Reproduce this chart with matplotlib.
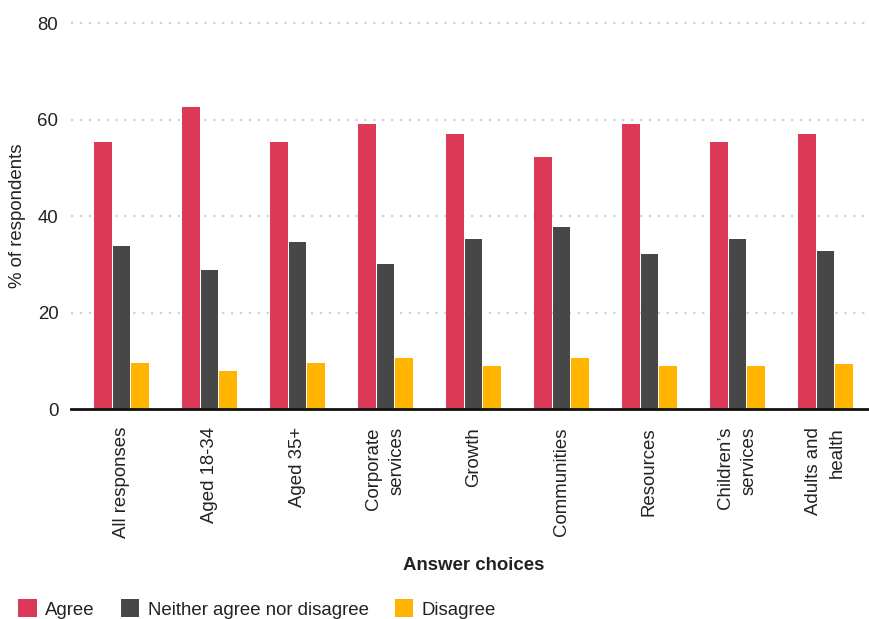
import matplotlib
matplotlib.use('Agg')

import matplotlib.pyplot as plt
import numpy as np

plt.rcParams['font.family'] = ['Liberation Sans', 'DejaVu Sans']

kategorien = ["All responses", "Aged 18-34", "Aged 35+", "Corporate\nservices", "Growth",
              "Communities", "Resources", "Children\u2019s\nservices", "Adults and\nhealth"]
agree = [55.4, 62.7, 55.4, 59.2, 57.1, 52.2, 59.2, 55.4, 57.1]
neither = [33.8, 28.8, 34.6, 30.1, 35.2, 37.8, 32.2, 35.2, 32.8]
disagree = [9.5, 7.9, 9.5, 10.6, 8.9, 10.6, 8.9, 8.9, 9.4]
serien = ["Agree", "Neither agree nor disagree", "Disagree"]
farben = ["#DC3956", "#474747", "#FFB400"]
y_ticks = [0, 20, 40, 60, 80]

textfarbe = "#222222"
fs = 13.4

fig = plt.figure(figsize=(8.7, 6.19), dpi=100)
ax = fig.add_axes([71 / 870, 1 - 409 / 619, 1 - 71 / 870, (409 - 23.5) / 619])

x = np.arange(len(kategorien))
breite = 0.195
versatz = [-0.21, 0.0, 0.21]
for werte, name, farbe, dx in zip([agree, neither, disagree], serien, farben, versatz):
    ax.bar(x + dx, werte, width=breite, color=farbe, label=name, zorder=3)

ax.set_xlim(-0.574, 8.506)
ax.set_ylim(0, 80)
ax.set_yticks(y_ticks)
ax.set_yticklabels([str(t) for t in y_ticks], fontsize=fs, color=textfarbe)
ax.set_xticks(x)
ax.set_xticklabels(kategorien, rotation=90, fontsize=fs, color=textfarbe,
                   va='top', ha='center', multialignment='right', linespacing=1.5)
ax.tick_params(axis='both', length=0)
ax.tick_params(axis='y', pad=9)
ax.tick_params(axis='x', pad=13)

for t in y_ticks[1:]:
    ax.axhline(t, color="#d0d0d0", linestyle=(0, (1, 3)), linewidth=1.6, zorder=1,
               clip_on=False)

for s in ["top", "right", "left"]:
    ax.spines[s].set_visible(False)
ax.spines["bottom"].set_linewidth(2)
ax.spines["bottom"].set_color("#111111")
ax.spines["bottom"].set_zorder(4)

fig.text(18 / 870, 1 - 216 / 619, "% of respondents", rotation=90, fontsize=fs,
         color=textfarbe, ha='center', va='center')
fig.text(474 / 870, 1 - 566 / 619, "Answer choices", fontsize=fs, fontweight='bold',
         color=textfarbe, ha='center', va='center')

handles, labels = ax.get_legend_handles_labels()
leg = fig.legend(handles, labels, loc='center left', bbox_to_anchor=(18 / 870, 1 - 609 / 619),
                 ncol=3, frameon=False, fontsize=fs, handlelength=1.0, handleheight=1.1,
                 handletextpad=0.45, columnspacing=1.4, borderpad=0, borderaxespad=0)
for t in leg.get_texts():
    t.set_color(textfarbe)

fig.savefig("out.png", dpi=100)
